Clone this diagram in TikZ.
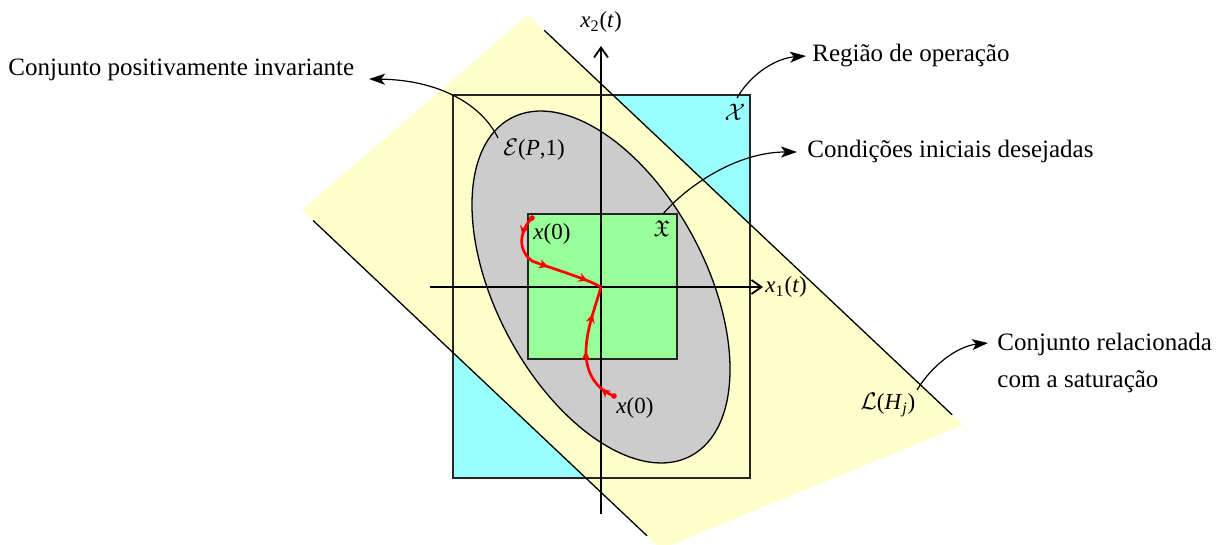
\documentclass[tikz,border=0pt]{standalone}
\usepackage{fontspec}
\setmainfont{Liberation Serif}
\usepackage{amssymb}
\usetikzlibrary{arrows.meta,decorations.markings,calc}
\definecolor{cyanfill}{HTML}{99FFFF}
\definecolor{yellowfill}{HTML}{FFFFCC}
\definecolor{grayfill}{HTML}{CCCCCC}
\definecolor{greenfill}{HTML}{99FF99}
\newcommand\mylblfont{\fontsize{12.5}{18.5}\selectfont}
\newcommand\mymathfont{\fontsize{11.5}{14}\selectfont}
\tikzset{
  rectline/.style={draw=black!85, line width=0.85pt},
  axisline/.style={line width=0.75pt, -{Straight Barb[length=5pt,width=7pt,line width=0.9pt]}},
  edgeline/.style={line width=0.65pt},
  callout/.style={line width=0.6pt, -{Stealth[length=8pt,width=5.5pt,inset=2pt]}},
  traj/.style={red, line width=1.35pt},
  trajtip/.style={red},
  lbl/.style={font=\mylblfont, inner sep=0pt},
  mlbl/.style={font=\mymathfont, inner sep=0pt},
}
\begin{document}
\begin{tikzpicture}[x=0.5pt,y=-0.5pt]
\useasboundingbox (0,0) rectangle (1227,545);
\coordinate (O) at (601,287);
% operation region
\fill[cyanfill] (453,95) rectangle (750,478);
% saturation band
\coordinate (A) at (528,15);
\coordinate (B) at (963,425);
\coordinate (C) at (661,549);
\coordinate (D) at (302,210);
\begin{scope}
\clip (0,0) rectangle (1227,545);
\fill[yellowfill] (A) -- (B) -- (C) -- (D) -- cycle;
\end{scope}
\draw[rectline] (453,95) rectangle (750,478);
\draw[edgeline] ($(A)!0.037!(B)$) -- ($(A)!0.975!(B)$);
\draw[edgeline] ($(D)!0.031!(C)$) -- ($(D)!0.961!(C)$);
% ellipse
\filldraw[fill=grayfill, draw=black, edgeline, rotate around={-62:(O)}] (O) ellipse [x radius=191.3, y radius=104.9];
% initial conditions set
\filldraw[fill=greenfill, draw=black!85, line width=0.75pt] (528,214) rectangle (677,359);
% axes
\coordinate (xs) at (430,287);
\coordinate (xe) at (763,287);
\coordinate (ys) at (601,514);
\coordinate (ye) at (601,46);
\draw[axisline] (xs) -- (xe);
\draw[axisline] (ys) -- (ye);
\node[mlbl, anchor=west] (x1l) at (765,287) {\textit{x}\textsubscript{1}(\textit{t})};
\node[mlbl] (x2l) at (601,22) {\textit{x}\textsubscript{2}(\textit{t})};
% trajectories
\coordinate (u0) at (532,218);
\coordinate (l0) at (614,396);
\draw[traj, postaction={decorate}, decoration={markings,
  mark=at position 0.16 with {\arrow[trajtip]{Stealth[length=4.5pt,width=4.5pt]}},
  mark=at position 0.54 with {\arrow[trajtip]{Stealth[length=4.5pt,width=4.5pt]}},
  mark=at position 0.88 with {\arrow[trajtip]{Stealth[length=4.5pt,width=4.5pt]}}}]
  (u0) .. controls (522,228) and (515,248) .. (532,261) .. controls (550,268) and (585,278) .. (O);
\draw[traj, postaction={decorate}, decoration={markings,
  mark=at position 0.12 with {\arrow[trajtip]{Stealth[length=4.5pt,width=4.5pt]}},
  mark=at position 0.46 with {\arrow[trajtip]{Stealth[length=4.5pt,width=4.5pt]}},
  mark=at position 0.77 with {\arrow[trajtip]{Stealth[length=4.5pt,width=4.5pt]}}}]
  (l0) .. controls (598,390) and (586,375) .. (586,352) .. controls (586,330) and (596,305) .. (O);
\fill[red] (u0) circle [radius=2.8];
\fill[red] (l0) circle [radius=2.8];
% math labels
\node[mlbl] (Xl) at (735,112) {$\mathcal{X}$};
\node[mlbl, anchor=west] (El) at (503,150) {$\mathcal{E}$(\textit{P},1)};
\node[mlbl] (Fl) at (662,229) {$\mathfrak{X}$};
\node[mlbl, anchor=west] (x0a) at (533,234) {\textit{x}(0)};
\node[mlbl, anchor=west] (x0b) at (616,408) {\textit{x}(0)};
\node[mlbl, anchor=west] (Ll) at (860,405) {$\mathcal{L}$(\textit{H}\textsubscript{\textit{j}})};
% text labels
\node[lbl, anchor=base west] (tInv) at (8,76) {Conjunto positivamente invariante};
\node[lbl, anchor=base west] (tOp) at (812,62) {Região de operação};
\node[lbl, anchor=base west] (tCI) at (807,158) {Condições iniciais desejadas};
\node[lbl, anchor=base west, align=left] (tSat) at (997,387) {Conjunto relacionada\\com a saturação};
% callouts
\coordinate (cE) at (498,138);
\coordinate (k1) at (369,79);
\draw[callout] (cE) .. controls (482,105) and (440,80) .. (k1);
\coordinate (cX) at (737,98);
\coordinate (k2) at (806,56);
\draw[callout] (cX) .. controls (752,72) and (778,58) .. (k2);
\coordinate (cF) at (663,214);
\coordinate (k3) at (797,152);
\draw[callout] (cF) .. controls (685,188) and (735,152) .. (k3);
\coordinate (cL) at (917,390);
\coordinate (k4) at (988,343);
\draw[callout] (cL) .. controls (932,365) and (958,346) .. (k4);
\end{tikzpicture}
\end{document}
